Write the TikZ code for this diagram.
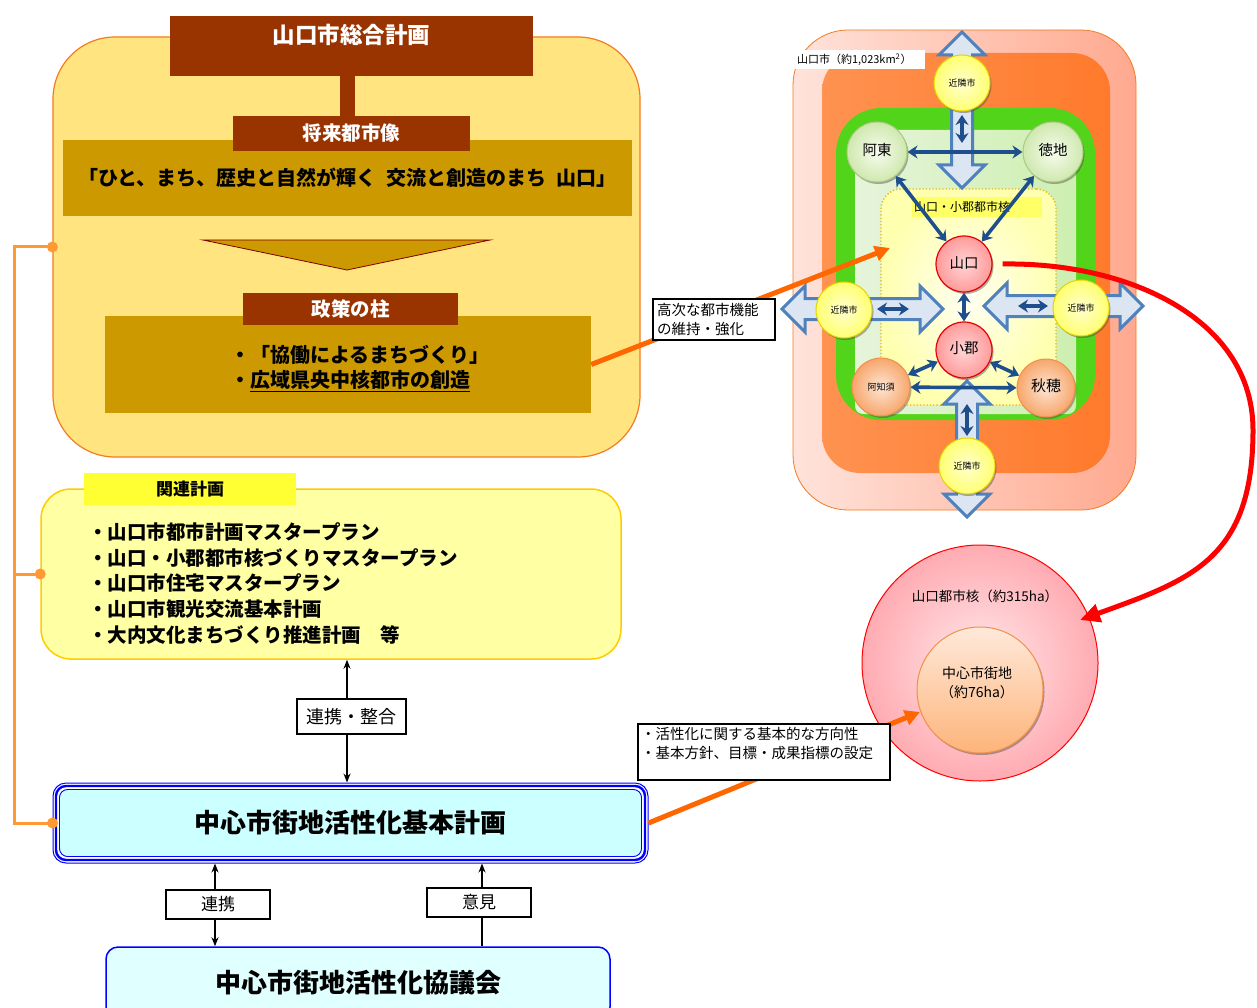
\documentclass[tikz,border=0pt]{standalone}
\usepackage{fontspec}
\setmainfont{Noto Sans CJK JP}
\usetikzlibrary{arrows.meta,shadows,calc}
\newcommand\fsz[2]{\fontsize{#1pt}{#2pt}\selectfont}
\definecolor{brn}{HTML}{993300}
\definecolor{gld}{HTML}{CC9900}
\definecolor{drkred}{HTML}{800000}
\definecolor{ylwbg}{HTML}{FFE480}
\definecolor{orgbd}{HTML}{F47B20}
\definecolor{arrowor}{HTML}{FF6600}
\definecolor{brk}{HTML}{FF9933}
\definecolor{kanfill}{HTML}{FFFFA3}
\definecolor{kanbd}{HTML}{FFCC00}
\definecolor{tabyel}{HTML}{FFFF33}
\definecolor{cyanfill}{HTML}{CCFFFF}
\definecolor{cyanlt}{HTML}{E0FFFF}
\definecolor{navyc}{HTML}{1F4E8C}
\definecolor{blkfill}{HTML}{DCE6F2}
\definecolor{blkdraw}{HTML}{4F81BD}
\definecolor{pinkL}{HTML}{FFE3DB}
\definecolor{pinkR}{HTML}{FFA98F}
\definecolor{orgA}{HTML}{FF9250}
\definecolor{orgB}{HTML}{FF7A2C}
\definecolor{grn}{HTML}{52D41A}
\definecolor{lgrnA}{HTML}{E6F4DA}
\definecolor{lgrnB}{HTML}{CDEFB0}
\definecolor{coreIn}{HTML}{FFFFF2}
\definecolor{coreOut}{HTML}{FFFFB0}
\definecolor{coreBd}{HTML}{F0B400}
\definecolor{hlyel}{HTML}{FFFF66}
\definecolor{nearIn}{HTML}{FFFFD0}
\definecolor{nearOut}{HTML}{FFFF70}
\definecolor{nearBd}{HTML}{E6D200}
\definecolor{gIn}{HTML}{F7FCEF}
\definecolor{gOut}{HTML}{CFE8AE}
\definecolor{gBd}{HTML}{A9CB82}
\definecolor{rIn}{HTML}{FFD6D6}
\definecolor{rOut}{HTML}{FF9A9A}
\definecolor{pIn}{HTML}{FDE6D4}
\definecolor{pOut}{HTML}{F7A66C}
\definecolor{pBd}{HTML}{F0904A}
\definecolor{bigIn}{HTML}{FFE8EA}
\definecolor{bigOut}{HTML}{FFABB2}
\definecolor{midTop}{HTML}{FFE9DA}
\definecolor{midBot}{HTML}{FDB47A}
\newcommand{\vblock}[3]{\filldraw[blockarr] (#1,#2) -- (#1+23,#2+23) -- (#1+10.5,#2+23) -- (#1+10.5,#3-23) -- (#1+23,#3-23) -- (#1,#3) -- (#1-23,#3-23) -- (#1-10.5,#3-23) -- (#1-10.5,#2+23) -- (#1-23,#2+23) -- cycle;}
\newcommand{\hblock}[3]{\filldraw[blockarr] (#2,#1) -- (#2+23,#1-23) -- (#2+23,#1-10.5) -- (#3-23,#1-10.5) -- (#3-23,#1-23) -- (#3,#1) -- (#3-23,#1+23) -- (#3-23,#1+10.5) -- (#2+23,#1+10.5) -- (#2+23,#1+23) -- cycle;}
\begin{document}
\begin{tikzpicture}[x=1pt,y=-1pt,
  brownbox/.style={fill=brn, inner sep=0pt, text=white, font=\bfseries\fsz{19.5}{23}},
  goldbox/.style={fill=gld, inner sep=0pt},
  lblbox/.style={draw=black, line width=1.2pt, fill=white, inner sep=0pt},
  listtxt/.style={anchor=west, inner sep=0pt, font=\bfseries\fsz{19.5}{23}},
  orarr/.style={draw=arrowor, line width=5pt, -{Triangle[length=15pt,width=15pt]}},
  brkline/.style={draw=brk, line width=3pt},
  blkarr/.style={line width=1.5pt, {Stealth[length=9pt,width=7pt]}-{Stealth[length=9pt,width=7pt]}},
  blkone/.style={line width=1.5pt, -{Stealth[length=9pt,width=7pt]}},
  blockarr/.style={fill=blkfill, draw=blkdraw, line width=3pt, line join=miter},
  navyarr/.style={draw=navyc, line width=3.6pt, {Stealth[length=10pt,width=13pt]}-{Stealth[length=10pt,width=13pt]}},
  shad/.style={drop shadow={shadow xshift=1.5pt, shadow yshift=-2pt, opacity=.45, fill=black!70}},
  near/.style={circle, minimum size=56pt, inner sep=0pt, draw=nearBd, line width=1pt, inner color=nearIn, outer color=nearOut, font=\fsz{9}{10}, shad},
  gball/.style={circle, minimum size=60pt, inner sep=0pt, draw=gBd, line width=1pt, inner color=gIn, outer color=gOut, font=\fsz{14.5}{16}, shad},
  rball/.style={circle, minimum size=56pt, inner sep=0pt, draw=red!90!black, line width=1.2pt, inner color=rIn, outer color=rOut, font=\fsz{14.5}{16}, shad},
  pball/.style={circle, minimum size=58pt, inner sep=0pt, draw=pBd, line width=1pt, inner color=pIn, outer color=pOut, shad}
]
\useasboundingbox (0,0) rectangle (1257,1008);
\fill[white] (0,0) rectangle (1257,1008);

% ---------------- right panel ----------------
\node[draw=orgbd, line width=.8pt, rounded corners=55pt, minimum width=343pt, minimum height=480pt, left color=pinkL, right color=pinkR] (city) at (964.5,270) {};
\node[rounded corners=38pt, minimum width=288pt, minimum height=420pt, left color=orgA, right color=orgB] (orng) at (966,263) {};
\node[fill=white, inner xsep=2pt, inner ysep=0pt, text width=126pt, minimum height=19pt, font=\fsz{11}{13}] (cityLbl) at (860,60) {山口市（約1,023km\textsuperscript{2}）};
\node[rounded corners=45pt, minimum width=259pt, minimum height=312pt, fill=grn] (grnR) at (965.5,264) {};
\node[rounded corners=8pt, minimum width=221pt, minimum height=284pt, left color=lgrnA, right color=lgrnB] (lgrnR) at (965.5,272) {};
\node[rounded corners=20pt, minimum width=175pt, minimum height=216pt, inner color=coreIn, outer color=coreOut, draw=coreBd, line width=1.3pt, dotted] (core) at (968.5,297) {};
\node[fill=hlyel, inner xsep=2pt, inner ysep=0pt, text width=126pt, minimum height=20pt, font=\fsz{12}{14}] (coreLbl) at (977,207) {山口・小郡都市核};

% block arrows
\vblock{962}{32}{188}
\hblock{309}{782}{943}
\hblock{306}{984}{1143}
\vblock{967}{381}{517}

% circles
\node[near] (nearT) at (962,83) {近隣市};
\node[near] (nearL) at (844,310) {近隣市};
\node[near] (nearR) at (1081,308) {近隣市};
\node[near] (nearB) at (967,466) {近隣市};
\node[gball] (ato) at (877,152) {\raisebox{5pt}{阿東}};
\node[gball] (toku) at (1053,152) {\raisebox{5pt}{徳地}};
\node[rball] (yama) at (964,264) {\raisebox{3pt}{山口}};
\node[rball] (ogo) at (964,350) {\raisebox{4pt}{小郡}};
\node[pball, font=\fsz{9}{10}] (aji) at (881,387) {阿知須};
\node[pball, font=\fsz{15}{16}] (aio) at (1046,388) {\raisebox{5pt}{秋穂}};

% navy arrows
\coordinate (sT1) at (962,115); \coordinate (sT2) at (962,143);
\coordinate (sL1) at (877,309); \coordinate (sL2) at (909,309);
\coordinate (sR1) at (1018,306); \coordinate (sR2) at (1048,306);
\coordinate (sB1) at (967,404); \coordinate (sB2) at (967,436);
\draw[navyarr] (sT1) -- (sT2);
\draw[navyarr] (sL1) -- (sL2);
\draw[navyarr] (sR1) -- (sR2);
\draw[navyarr] (sB1) -- (sB2);
\draw[navyarr] (ato) -- (toku);
\draw[navyarr] (ato) -- (yama);
\draw[navyarr] (toku) -- (yama);
\draw[navyarr] (yama) -- (ogo);
\draw[navyarr] (ogo) -- (aji);
\draw[navyarr] (ogo) -- (aio);
\draw[navyarr] (aji) -- (aio);

% bottom right circles
\node[circle, minimum size=236pt, inner sep=0pt, draw=red, line width=1pt, inner color=bigIn, outer color=bigOut] (toshikaku) at (980,663) {};
\node[font=\fsz{13.5}{15}] (toshiLbl) at (985,596) {山口都市核（約315ha）};
\node[circle, minimum size=126pt, inner sep=0pt, draw=pBd, line width=1pt, top color=midTop, bottom color=midBot, shad] (chushinChi) at (980,690) {};
\node[align=center, font=\fsz{14}{19}, inner sep=0pt] (chushinChiT) at (977,683) {中心市街地\\（約76ha）};

% ---------------- left column ----------------
\node[fill=ylwbg, draw=orgbd, line width=1.2pt, rounded corners=62pt, minimum width=587pt, minimum height=420pt] (yellowbig) at (346.5,247) {};
\node[brownbox, minimum width=363pt, minimum height=60pt] (sogo) at (351.5,46) {};
\node[text=white, font=\bfseries\fsz{22.5}{26}, inner sep=0pt] (sogoT) at (351.5,35) {山口市総合計画};
\node[goldbox, minimum width=569pt, minimum height=76pt, font=\bfseries\fsz{20}{24}] (slogan) at (347.5,178) {「ひと、まち、歴史と自然が輝く\hspace{0.5em}交流と創造のまち\hspace{0.5em}山口」};
\node[brownbox, minimum width=237pt, minimum height=35pt] (shorai) at (351.5,133.5) {将来都市像};
\draw[draw=brn, line width=15pt] ([xshift=-4pt]sogo.south) -- ([xshift=-4pt]shorai.north);
\filldraw[fill=gld, draw=drkred, line width=.8pt] (203,240) -- (490,240) -- (347,270) -- cycle;
\node[goldbox, minimum width=486pt, minimum height=97pt] (pillar) at (348,364.5) {};
\node[brownbox, minimum width=215pt, minimum height=32pt] (seisaku) at (350.5,309) {政策の柱};
\node[listtxt, font=\bfseries\fsz{20}{24}] (p1) at (230,355) {・「協働によるまちづくり」};
\node[listtxt, font=\bfseries\fsz{20}{24}] (p2) at (230,381) {・\underline{広域県央中核都市の創造}};

% related plans
\node[fill=kanfill, draw=kanbd, line width=1.5pt, rounded corners=30pt, minimum width=580pt, minimum height=170pt] (kanren) at (331,574) {};
\node[fill=tabyel, minimum width=212pt, minimum height=32pt, inner sep=0pt, font=\bfseries\fsz{17}{20}] (kanrenTab) at (190,489) {関連計画};
\node[listtxt] (l1) at (88,532) {・山口市都市計画マスタープラン};
\node[listtxt] (l2) at (88,558) {・山口・小郡都市核づくりマスタープラン};
\node[listtxt] (l3) at (88,583) {・山口市住宅マスタープラン};
\node[listtxt] (l4) at (88,609) {・山口市観光交流基本計画};
\node[listtxt] (l5) at (88,635) {・大内文化まちづくり推進計画\hspace{1em}等};

% main plan box
\node[fill=white, draw=blue, line width=1pt, rounded corners=13pt, minimum width=595pt, minimum height=80pt, inner sep=0pt] (chushin) at (350.5,823) {};
\draw[blue, line width=2.4pt, rounded corners=10pt] ([shift={(3.5,3.5)}]chushin.north west) rectangle ([shift={(-3.5,-3.5)}]chushin.south east);
\filldraw[fill=cyanfill, draw=blue, line width=.9pt, rounded corners=8pt] ([shift={(7,7)}]chushin.north west) rectangle ([shift={(-7,-7)}]chushin.south east);
\node[font=\bfseries\fsz{26}{30}, inner sep=0pt] (chushinT) at (chushin.center) {中心市街地活性化基本計画};

% council
\node[fill=cyanlt, draw=blue, line width=1.5pt, rounded corners=12pt, minimum width=504pt, minimum height=72pt, font=\bfseries\fsz{26}{30}] (kyogi) at (358,983) {\raisebox{2pt}{中心市街地活性化協議会}};

% bracket
\coordinate (brx) at (14,0);
\draw[brkline] (yellowbig.west) -- (yellowbig.west -| brx) -- (chushin.west -| brx) -- (chushin.west);
\draw[brkline] (kanren.west) -- (kanren.west -| brx);
\fill[brk] (yellowbig.west) circle (5.5pt);
\fill[brk] (kanren.west) circle (5.5pt);
\fill[brk] (chushin.west) circle (5.5pt);

% black arrows and labels
\coordinate (ax1) at (347,0);
\coordinate (ax2) at (215,0);
\coordinate (ax3) at (482,0);
\draw[blkarr] (kanren.south -| ax1) -- (chushin.north -| ax1);
\draw[blkarr] (chushin.south -| ax2) -- (kyogi.north -| ax2);
\draw[blkone] (kyogi.north -| ax3) -- (chushin.south -| ax3);
\node[lblbox, minimum width=109pt, minimum height=35pt, font=\fsz{18}{20}] (seigo) at (351.5,716.5) {連携・整合};
\node[lblbox, minimum width=104pt, minimum height=29pt, font=\fsz{17}{19}] (renkei) at (218,904.5) {連携};
\node[lblbox, minimum width=104pt, minimum height=29pt, font=\fsz{17}{19}] (iken) at (479,902.5) {意見};

% orange arrows
\coordinate (kojiTip) at (890,248);
\coordinate (chiTip) at (920,712);
\draw[orarr] (pillar.east) -- (kojiTip);
\draw[orarr] (chushin.east) -- (chiTip);
\node[lblbox, text width=114pt, inner xsep=4pt, minimum height=41pt, align=left, font=\fsz{14.5}{18.5}] (koji) at (714,319.5) {高次な都市機能\\の維持・強化};
\node[lblbox, minimum width=252pt, minimum height=56pt] (housin) at (764,752) {};
\node[anchor=north west, inner sep=0pt, align=left, font=\fsz{14.5}{19}] (housinT) at (641,727) {・活性化に関する基本的な方向性\\・基本方針、目標・成果指標の設定};

% red arc
\coordinate (redTip) at (1080,620);
\draw[red, line width=5pt, -{Triangle[length=20pt,width=18pt]}] ([xshift=10pt]yama.east) .. controls (1130,262) and (1253,320) .. (1253,430) .. controls (1253,560) and (1190,580) .. (redTip);
\end{tikzpicture}
\end{document}
